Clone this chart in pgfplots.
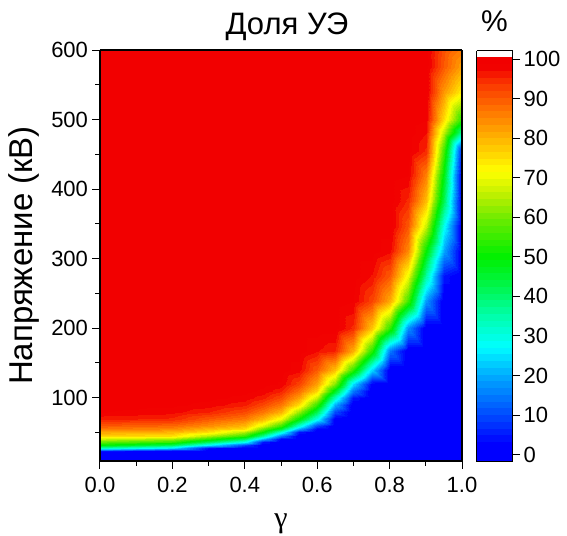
\documentclass[border=0pt]{standalone}
\usepackage{fontspec}
\setmainfont{Liberation Sans}
\newfontfamily\seriffont{Liberation Serif}
\usepackage{pgfplots}
\pgfplotsset{compat=1.18}
\pgfplotsset{
 colormap={uemap}{
  rgb255(0pt)=(0,0,255)
  rgb255(3.8pt)=(0,0,255)
  rgb255(11.8pt)=(0,80,255)
  rgb255(21.8pt)=(0,175,255)
  rgb255(28.8pt)=(0,255,255)
  rgb255(36.8pt)=(0,255,170)
  rgb255(44.8pt)=(0,245,70)
  rgb255(51.8pt)=(0,240,0)
  rgb255(61.8pt)=(110,235,0)
  rgb255(67.8pt)=(190,240,0)
  rgb255(73.8pt)=(255,255,0)
  rgb255(81.8pt)=(255,185,0)
  rgb255(89.8pt)=(255,115,0)
  rgb255(96.8pt)=(250,50,0)
  rgb255(100.8pt)=(242,0,0)
  rgb255(102.4pt)=(242,0,0)
 }
}
\begin{document}
\begin{tikzpicture}
\useasboundingbox (-100pt,-74pt) rectangle (467pt,461pt);
\begin{axis}[
 at={(0,0)}, anchor=south west,
 scale only axis, width=362pt, height=411pt,
 view={0}{90},
 xmin=0, xmax=1, ymin=9, ymax=600,
 xtick={0,0.2,0.4,0.6,0.8,1.0},
 xticklabels={0.0,0.2,0.4,0.6,0.8,1.0},
 minor xtick={0.1,0.3,0.5,0.7,0.9},
 ytick={100,200,300,400,500,600},
 minor ytick={50,150,250,350,450,550},
 tick align=outside,
 tick pos=left,
 major tick length=7.5pt, minor tick length=4.5pt,
 every tick/.style={black, line width=1pt},
 axis line style={line width=1.2pt},
 ticklabel style={font=\fontsize{22}{26}\selectfont},
 xticklabel style={yshift=-5pt},
 yticklabel style={xshift=-1pt},
 /pgf/number format/assume math mode=true,
 title={Доля УЭ},
 title style={font=\fontsize{31}{35}\selectfont, at={(0.5,1)}, anchor=base, yshift=10pt, xshift=6pt},
 xlabel={\seriffont γ},
 ylabel={Напряжение (кВ)},
 xlabel style={font=\fontsize{30}{34}\selectfont},
 xlabel shift=14pt,
 ylabel style={font=\fontsize{33}{37}\selectfont},
 ylabel shift=5pt,
 colormap name=uemap,
 point meta min=-1.8, point meta max=100.6,
 colorbar,
 colorbar style={
  scale only axis, width=36pt, height=411pt,
  at={(parent axis.north east)}, anchor=north west, xshift=6pt, yshift=-0.7pt,
  ymin=-1.8, ymax=102.1,
  ytick={0,10,20,30,40,50,60,70,80,90,100},
  tick align=outside, ytick pos=right, yticklabel pos=right,
  major tick length=7.5pt,
  every tick/.style={black, line width=1pt},
  axis line style={line width=1.2pt},
  yticklabel style={font=\fontsize{22}{26}\selectfont},
  /pgf/number format/assume math mode=true,
  title={\%},
  title style={font=\fontsize{30}{34}\selectfont, at={(0.5,1)}, anchor=base, yshift=13pt},
 },
]
\addplot3[contour filled={number=60}, mesh/cols=17] table[row sep=\\] {
x y z \\
0 9 0 \\ 0.1 9 0 \\ 0.2 9 0 \\ 0.3 9 0 \\ 0.4 9 0 \\ 0.45 9 0 \\ 0.5 9 0 \\ 0.55 9 0 \\ 0.6 9 0 \\ 0.65 9 0 \\ 0.7 9 0 \\ 0.75 9 0 \\ 0.8 9 0 \\ 0.85 9 0 \\ 0.9 9 0 \\ 0.95 9 0 \\ 1 9 0 \\
0 20 0 \\ 0.1 20 0 \\ 0.2 20 0 \\ 0.3 20 0 \\ 0.4 20 0 \\ 0.45 20 0 \\ 0.5 20 0 \\ 0.55 20 0 \\ 0.6 20 0 \\ 0.65 20 0 \\ 0.7 20 0 \\ 0.75 20 0 \\ 0.8 20 0 \\ 0.85 20 0 \\ 0.9 20 0 \\ 0.95 20 0 \\ 1 20 0 \\
0 24 5 \\ 0.1 24 2.5 \\ 0.2 24 0 \\ 0.3 24 0 \\ 0.4 24 0 \\ 0.45 24 0 \\ 0.5 24 0 \\ 0.55 24 0 \\ 0.6 24 0 \\ 0.65 24 0 \\ 0.7 24 0 \\ 0.75 24 0 \\ 0.8 24 0 \\ 0.85 24 0 \\ 0.9 24 0 \\ 0.95 24 0 \\ 1 24 0 \\
0 28 33.3 \\ 0.1 28 29.2 \\ 0.2 28 25 \\ 0.3 28 4 \\ 0.4 28 0 \\ 0.45 28 0 \\ 0.5 28 0 \\ 0.55 28 0 \\ 0.6 28 0 \\ 0.65 28 0 \\ 0.7 28 0 \\ 0.75 28 0 \\ 0.8 28 0 \\ 0.85 28 0 \\ 0.9 28 0 \\ 0.95 28 0 \\ 1 28 0 \\
0 32 50 \\ 0.1 32 45.8 \\ 0.2 32 41.7 \\ 0.3 32 26.8 \\ 0.4 32 10 \\ 0.45 32 0 \\ 0.5 32 0 \\ 0.55 32 0 \\ 0.6 32 0 \\ 0.65 32 0 \\ 0.7 32 0 \\ 0.75 32 0 \\ 0.8 32 0 \\ 0.85 32 0 \\ 0.9 32 0 \\ 0.95 32 0 \\ 1 32 0 \\
0 36 58.3 \\ 0.1 36 56.4 \\ 0.2 36 54.5 \\ 0.3 36 41.1 \\ 0.4 36 28.1 \\ 0.45 36 5 \\ 0.5 36 0 \\ 0.55 36 0 \\ 0.6 36 0 \\ 0.65 36 0 \\ 0.7 36 0 \\ 0.75 36 0 \\ 0.8 36 0 \\ 0.85 36 0 \\ 0.9 36 0 \\ 0.95 36 0 \\ 1 36 0 \\
0 40 66.7 \\ 0.1 40 65.1 \\ 0.2 40 63.6 \\ 0.3 40 53.3 \\ 0.4 40 40.6 \\ 0.45 40 21 \\ 0.5 40 2.5 \\ 0.55 40 0 \\ 0.6 40 0 \\ 0.65 40 0 \\ 0.7 40 0 \\ 0.75 40 0 \\ 0.8 40 0 \\ 0.85 40 0 \\ 0.9 40 0 \\ 0.95 40 0 \\ 1 40 0 \\
0 45 76.1 \\ 0.1 45 75.5 \\ 0.2 45 75 \\ 0.3 45 64.1 \\ 0.4 45 54.2 \\ 0.45 45 36.1 \\ 0.5 45 15 \\ 0.55 45 0 \\ 0.6 45 0 \\ 0.65 45 0 \\ 0.7 45 0 \\ 0.75 45 0 \\ 0.8 45 0 \\ 0.85 45 0 \\ 0.9 45 0 \\ 0.95 45 0 \\ 1 45 0 \\
0 50 81.7 \\ 0.1 50 80.8 \\ 0.2 50 80 \\ 0.3 50 75 \\ 0.4 50 64.6 \\ 0.45 50 50 \\ 0.5 50 30.6 \\ 0.55 50 5 \\ 0.6 50 0 \\ 0.65 50 0 \\ 0.7 50 0 \\ 0.75 50 0 \\ 0.8 50 0 \\ 0.85 50 0 \\ 0.9 50 0 \\ 0.95 50 0 \\ 1 50 0 \\
0 55 86.4 \\ 0.1 55 85.7 \\ 0.2 55 85 \\ 0.3 55 79.5 \\ 0.4 55 75 \\ 0.45 55 58.9 \\ 0.5 55 44.4 \\ 0.55 55 19.3 \\ 0.6 55 2.5 \\ 0.65 55 0 \\ 0.7 55 0 \\ 0.75 55 0 \\ 0.8 55 0 \\ 0.85 55 0 \\ 0.9 55 0 \\ 0.95 55 0 \\ 1 55 0 \\
0 60 90 \\ 0.1 60 89.2 \\ 0.2 60 88.3 \\ 0.3 60 84.1 \\ 0.4 60 79.2 \\ 0.45 60 67.9 \\ 0.5 60 54.7 \\ 0.55 60 30.8 \\ 0.6 60 9.4 \\ 0.65 60 0 \\ 0.7 60 0 \\ 0.75 60 0 \\ 0.8 60 0 \\ 0.85 60 0 \\ 0.9 60 0 \\ 0.95 60 0 \\ 1 60 0 \\
0 70 95.9 \\ 0.1 70 95.5 \\ 0.2 70 95 \\ 0.3 70 90.3 \\ 0.4 70 86.6 \\ 0.45 70 80 \\ 0.5 70 70.3 \\ 0.55 70 50 \\ 0.6 70 28.9 \\ 0.65 70 1.4 \\ 0.7 70 0 \\ 0.75 70 0 \\ 0.8 70 0 \\ 0.85 70 0 \\ 0.9 70 0 \\ 0.95 70 0 \\ 1 70 0 \\
0 80 99 \\ 0.1 80 98.5 \\ 0.2 80 97.9 \\ 0.3 80 95.5 \\ 0.4 80 91.8 \\ 0.45 80 87 \\ 0.5 80 80.4 \\ 0.55 80 62.5 \\ 0.6 80 42.1 \\ 0.65 80 10 \\ 0.7 80 0 \\ 0.75 80 0 \\ 0.8 80 0 \\ 0.85 80 0 \\ 0.9 80 0 \\ 0.95 80 0 \\ 1 80 0 \\
0 90 99.7 \\ 0.1 90 99.5 \\ 0.2 90 99.4 \\ 0.3 90 98.2 \\ 0.4 90 95.9 \\ 0.45 90 92 \\ 0.5 90 86.9 \\ 0.55 90 75 \\ 0.6 90 54.5 \\ 0.65 90 20 \\ 0.7 90 0 \\ 0.75 90 0 \\ 0.8 90 0 \\ 0.85 90 0 \\ 0.9 90 0 \\ 0.95 90 0 \\ 1 90 0 \\
0 100 100 \\ 0.1 100 100 \\ 0.2 100 100 \\ 0.3 100 99.5 \\ 0.4 100 98.3 \\ 0.45 100 96 \\ 0.5 100 91.7 \\ 0.55 100 82.1 \\ 0.6 100 65.9 \\ 0.65 100 32.4 \\ 0.7 100 5 \\ 0.75 100 0 \\ 0.8 100 0 \\ 0.85 100 0 \\ 0.9 100 0 \\ 0.95 100 0 \\ 1 100 0 \\
0 110 100 \\ 0.1 110 100 \\ 0.2 110 100 \\ 0.3 110 100 \\ 0.4 110 99.6 \\ 0.45 110 98.5 \\ 0.5 110 95.9 \\ 0.55 110 87.9 \\ 0.6 110 76.2 \\ 0.65 110 47.1 \\ 0.7 110 15 \\ 0.75 110 0 \\ 0.8 110 0 \\ 0.85 110 0 \\ 0.9 110 0 \\ 0.95 110 0 \\ 1 110 0 \\
0 120 100 \\ 0.1 120 100 \\ 0.2 120 100 \\ 0.3 120 100 \\ 0.4 120 100 \\ 0.45 120 99.6 \\ 0.5 120 98.7 \\ 0.55 120 92.6 \\ 0.6 120 82.1 \\ 0.65 120 61 \\ 0.7 120 25 \\ 0.75 120 2 \\ 0.8 120 0 \\ 0.85 120 0 \\ 0.9 120 0 \\ 0.95 120 0 \\ 1 120 0 \\
0 140 100 \\ 0.1 140 100 \\ 0.2 140 100 \\ 0.3 140 100 \\ 0.4 140 100 \\ 0.45 140 100 \\ 0.5 140 100 \\ 0.55 140 98 \\ 0.6 140 90 \\ 0.65 140 78.8 \\ 0.7 140 54.2 \\ 0.75 140 23.9 \\ 0.8 140 0 \\ 0.85 140 0 \\ 0.9 140 0 \\ 0.95 140 0 \\ 1 140 0 \\
0 167 100 \\ 0.1 167 100 \\ 0.2 167 100 \\ 0.3 167 100 \\ 0.4 167 100 \\ 0.45 167 100 \\ 0.5 167 100 \\ 0.55 167 100 \\ 0.6 167 97.4 \\ 0.65 167 95.4 \\ 0.7 167 81 \\ 0.75 167 53 \\ 0.8 167 15 \\ 0.85 167 0 \\ 0.9 167 0 \\ 0.95 167 0 \\ 1 167 0 \\
0 200 100 \\ 0.1 200 100 \\ 0.2 200 100 \\ 0.3 200 100 \\ 0.4 200 100 \\ 0.45 200 100 \\ 0.5 200 100 \\ 0.55 200 100 \\ 0.6 200 100 \\ 0.65 200 100 \\ 0.7 200 95 \\ 0.75 200 78 \\ 0.8 200 54 \\ 0.85 200 17.5 \\ 0.9 200 0 \\ 0.95 200 0 \\ 1 200 0 \\
0 239 100 \\ 0.1 239 100 \\ 0.2 239 100 \\ 0.3 239 100 \\ 0.4 239 100 \\ 0.45 239 100 \\ 0.5 239 100 \\ 0.55 239 100 \\ 0.6 239 100 \\ 0.65 239 100 \\ 0.7 239 99 \\ 0.75 239 92.5 \\ 0.8 239 81 \\ 0.85 239 55.6 \\ 0.9 239 18.3 \\ 0.95 239 0 \\ 1 239 0 \\
0 275 100 \\ 0.1 275 100 \\ 0.2 275 100 \\ 0.3 275 100 \\ 0.4 275 100 \\ 0.45 275 100 \\ 0.5 275 100 \\ 0.55 275 100 \\ 0.6 275 100 \\ 0.65 275 100 \\ 0.7 275 100 \\ 0.75 275 97 \\ 0.8 275 90 \\ 0.85 275 70.3 \\ 0.9 275 35.7 \\ 0.95 275 4.7 \\ 1 275 0 \\
0 311 100 \\ 0.1 311 100 \\ 0.2 311 100 \\ 0.3 311 100 \\ 0.4 311 100 \\ 0.45 311 100 \\ 0.5 311 100 \\ 0.55 311 100 \\ 0.6 311 100 \\ 0.65 311 100 \\ 0.7 311 100 \\ 0.75 311 100 \\ 0.8 311 97.7 \\ 0.85 311 85 \\ 0.9 311 50 \\ 0.95 311 19.3 \\ 1 311 0 \\
0 347 100 \\ 0.1 347 100 \\ 0.2 347 100 \\ 0.3 347 100 \\ 0.4 347 100 \\ 0.45 347 100 \\ 0.5 347 100 \\ 0.55 347 100 \\ 0.6 347 100 \\ 0.65 347 100 \\ 0.7 347 100 \\ 0.75 347 100 \\ 0.8 347 100 \\ 0.85 347 90.5 \\ 0.9 347 66.7 \\ 0.95 347 28.6 \\ 1 347 0 \\
0 383 100 \\ 0.1 383 100 \\ 0.2 383 100 \\ 0.3 383 100 \\ 0.4 383 100 \\ 0.45 383 100 \\ 0.5 383 100 \\ 0.55 383 100 \\ 0.6 383 100 \\ 0.65 383 100 \\ 0.7 383 100 \\ 0.75 383 100 \\ 0.8 383 100 \\ 0.85 383 95 \\ 0.9 383 79 \\ 0.95 383 41.7 \\ 1 383 0 \\
0 420 100 \\ 0.1 420 100 \\ 0.2 420 100 \\ 0.3 420 100 \\ 0.4 420 100 \\ 0.45 420 100 \\ 0.5 420 100 \\ 0.55 420 100 \\ 0.6 420 100 \\ 0.65 420 100 \\ 0.7 420 100 \\ 0.75 420 100 \\ 0.8 420 100 \\ 0.85 420 99 \\ 0.9 420 86 \\ 0.95 420 47.7 \\ 1 420 0 \\
0 455 100 \\ 0.1 455 100 \\ 0.2 455 100 \\ 0.3 455 100 \\ 0.4 455 100 \\ 0.45 455 100 \\ 0.5 455 100 \\ 0.55 455 100 \\ 0.6 455 100 \\ 0.65 455 100 \\ 0.7 455 100 \\ 0.75 455 100 \\ 0.8 455 100 \\ 0.85 455 100 \\ 0.9 455 95 \\ 0.95 455 55 \\ 1 455 5 \\
0 480 100 \\ 0.1 480 100 \\ 0.2 480 100 \\ 0.3 480 100 \\ 0.4 480 100 \\ 0.45 480 100 \\ 0.5 480 100 \\ 0.55 480 100 \\ 0.6 480 100 \\ 0.65 480 100 \\ 0.7 480 100 \\ 0.75 480 100 \\ 0.8 480 100 \\ 0.85 480 100 \\ 0.9 480 97.2 \\ 0.95 480 65 \\ 1 480 35 \\
0 500 100 \\ 0.1 500 100 \\ 0.2 500 100 \\ 0.3 500 100 \\ 0.4 500 100 \\ 0.45 500 100 \\ 0.5 500 100 \\ 0.55 500 100 \\ 0.6 500 100 \\ 0.65 500 100 \\ 0.7 500 100 \\ 0.75 500 100 \\ 0.8 500 100 \\ 0.85 500 100 \\ 0.9 500 99 \\ 0.95 500 75 \\ 1 500 53 \\
0 540 100 \\ 0.1 540 100 \\ 0.2 540 100 \\ 0.3 540 100 \\ 0.4 540 100 \\ 0.45 540 100 \\ 0.5 540 100 \\ 0.55 540 100 \\ 0.6 540 100 \\ 0.65 540 100 \\ 0.7 540 100 \\ 0.75 540 100 \\ 0.8 540 100 \\ 0.85 540 100 \\ 0.9 540 100 \\ 0.95 540 83 \\ 1 540 73 \\
0 575 100 \\ 0.1 575 100 \\ 0.2 575 100 \\ 0.3 575 100 \\ 0.4 575 100 \\ 0.45 575 100 \\ 0.5 575 100 \\ 0.55 575 100 \\ 0.6 575 100 \\ 0.65 575 100 \\ 0.7 575 100 \\ 0.75 575 100 \\ 0.8 575 100 \\ 0.85 575 100 \\ 0.9 575 100 \\ 0.95 575 90 \\ 1 575 81.7 \\
0 600 100 \\ 0.1 600 100 \\ 0.2 600 100 \\ 0.3 600 100 \\ 0.4 600 100 \\ 0.45 600 100 \\ 0.5 600 100 \\ 0.55 600 100 \\ 0.6 600 100 \\ 0.65 600 100 \\ 0.7 600 100 \\ 0.75 600 100 \\ 0.8 600 100 \\ 0.85 600 100 \\ 0.9 600 100 \\ 0.95 600 91 \\ 1 600 86 \\
};
\end{axis}
\end{tikzpicture}
\end{document}
